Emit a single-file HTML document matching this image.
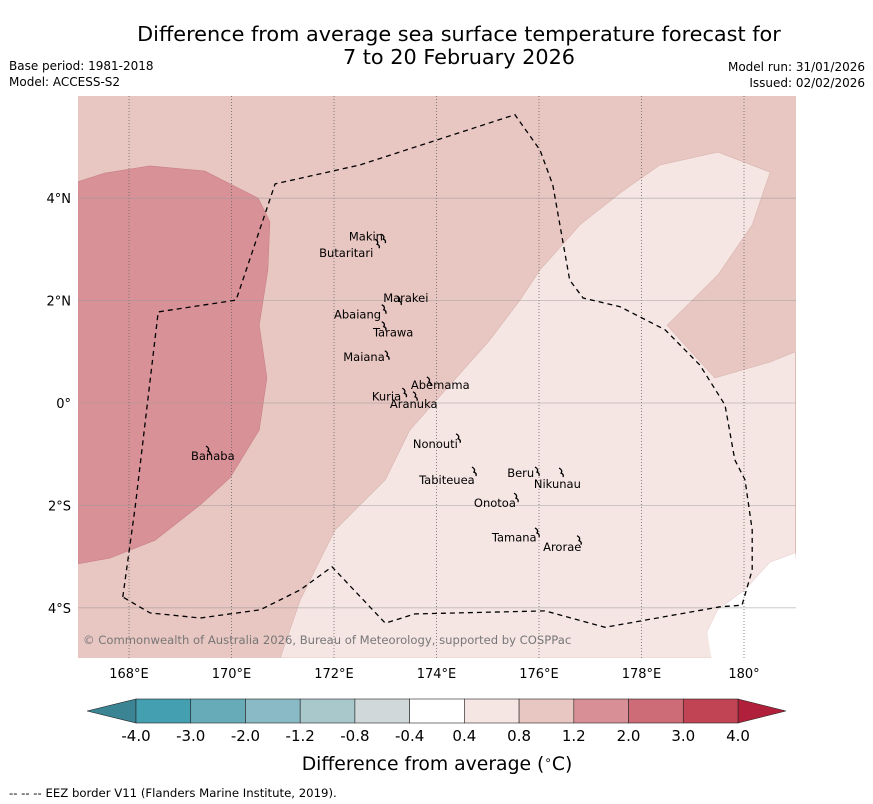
<!DOCTYPE html>
<html><head><meta charset="utf-8">
<style>
body{margin:0;background:#fff;width:873px;height:804px;overflow:hidden;font-family:"DejaVu Sans","Liberation Sans",sans-serif;}
svg{position:absolute;left:0;top:0}
</style></head>
<body>
<svg id="chart" width="873" height="804" font-family="DejaVu Sans, Liberation Sans, sans-serif">
<text x="459" y="41" font-size="20.8" text-anchor="middle">Difference from average sea surface temperature forecast for</text>
<text x="459" y="64" font-size="20.8" text-anchor="middle">7 to 20 February 2026</text>
<text x="9" y="70" font-size="12">Base period: 1981-2018</text>
<text x="9" y="86" font-size="12">Model: ACCESS-S2</text>
<text x="865" y="71" font-size="12" text-anchor="end">Model run: 31/01/2026</text>
<text x="865" y="87" font-size="12" text-anchor="end">Issued: 02/02/2026</text>
<defs><clipPath id="mc"><rect x="78" y="96" width="718" height="562"/></clipPath></defs>
<g id="map" clip-path="url(#mc)"></g>
<text x="83" y="644" font-size="11.6" fill="#777">© Commonwealth of Australia 2026, Bureau of Meteorology, supported by COSPPac</text>
<g id="axes"></g>
<g id="cbar"></g>
<text x="437" y="770" font-size="18.8" text-anchor="middle">Difference from average (<tspan font-size="12" dy="-6">∘</tspan><tspan dy="6">C)</tspan></text>
<text x="9" y="797" font-size="11.7">--  --  -- EEZ border V11 (Flanders Marine Institute, 2019).</text>
</svg>
<script>
const lonTicks=[168,170,172,174,176,178,180];
const lonLabels=["168°E","170°E","172°E","174°E","176°E","178°E","180°"];
const latTicks=[4,2,0,-2,-4];
const latLabels=["4°N","2°N","0°","2°S","4°S"];
const darkRegion=[[167,4.32],[167.53,4.49],[168.41,4.63],[169.48,4.53],[170.52,4.0],[170.75,3.54],[170.71,2.6],[170.54,1.52],[170.69,0.49],[170.54,-0.53],[169.97,-1.46],[169.39,-1.99],[168.51,-2.68],[167.63,-3.03],[167,-3.14]];
const lightRegion=[[170.95,-4.98],[171.34,-3.85],[172.02,-2.48],[173.0,-1.5],[173.48,-0.53],[174.26,0.35],[175.04,1.23],[175.63,2.01],[176.02,2.6],[176.8,3.48],[177.58,4.1],[178.36,4.65],[179.49,4.9],[180.51,4.51],[180.16,3.48],[179.49,2.5],[178.5,1.52],[179.43,0.49],[180.51,0.8],[181,1.0],[181,-2.93],[180.51,-3.11],[180.02,-3.65],[179.49,-4.04],[179.28,-4.47],[179.4,-4.98]];
const eez=[[167.88,-3.79],[168.12,-2.03],[168.57,1.78],[170.09,2.01],[170.85,4.28],[172.51,4.65],[175.53,5.63],[176.02,4.94],[176.27,4.26],[176.6,2.4],[176.86,2.05],[177.58,1.88],[178.46,1.43],[179.14,0.74],[179.63,-0.04],[179.82,-1.11],[180.02,-1.5],[180.16,-2.48],[180.16,-3.26],[179.96,-3.95],[179.53,-3.98],[177.29,-4.38],[176.12,-4.06],[173.58,-4.12],[173.0,-4.3],[171.96,-3.2],[171.34,-3.65],[170.56,-4.04],[169.39,-4.2],[168.41,-4.1],[167.88,-3.79]];
const islandNames=["Makin","Butaritari","Marakei","Abaiang","Tarawa","Maiana","Abemama","Kuria","Aranuka","Nonouti","Tabiteuea","Beru","Nikunau","Onotoa","Tamana","Arorae","Banaba"];
const islandLabelLon=[172.29,171.71,172.96,172.0,172.76,172.18,173.5,172.74,173.09,173.54,173.66,175.38,175.9,174.73,175.08,176.08,169.21];
const islandLabelLat=[3.25,2.93,2.05,1.73,1.38,0.9,0.35,0.13,-0.02,-0.8,-1.5,-1.37,-1.58,-1.95,-2.63,-2.81,-1.04];
const islandLon=[172.98,172.86,173.29,172.99,172.99,173.05,173.87,173.39,173.6,174.44,174.75,175.98,176.45,175.57,175.98,176.8,169.56];
const islandLat=[3.24,3.14,2.03,1.86,1.53,0.96,0.45,0.23,0.16,-0.66,-1.31,-1.31,-1.33,-1.82,-2.5,-2.65,-0.9];
const cbBounds=["-4.0","-3.0","-2.0","-1.2","-0.8","-0.4","0.4","0.8","1.2","2.0","3.0","4.0"];
const cbColors=["#44a0b1","#67abb9","#8abac6","#a8c8cc","#d0d8da","#ffffff","#f5e6e4","#e8c6c1","#d88f96","#cd6b76","#c14454"];
const NS="http://www.w3.org/2000/svg";
const X=lon=>129+(lon-168)*51.25;
const Y=lat=>403-lat*51.2;
function mk(tag,attrs,parent){const e=document.createElementNS(NS,tag);for(const k in attrs)e.setAttribute(k,attrs[k]);parent.appendChild(e);return e;}
const pts=a=>a.map(p=>X(p[0]).toFixed(1)+","+Y(p[1]).toFixed(1)).join(" ");
const map=document.getElementById("map");
let bg=mk("rect",{x:78,y:96,width:718,height:562,fill:"#e8c6c1"},map);


let lr=mk("polygon",{points:pts(lightRegion),fill:"#f5e6e4",stroke:"#d9b5b0","stroke-width":0.6},map);


let wr=mk("polygon",{points:pts([[181,-2.93],[180.51,-3.11],[180.02,-3.65],[179.49,-4.04],[179.28,-4.47],[179.4,-5.2],[181.2,-5.2]]),fill:"#ffffff"},map);


let dr=mk("polygon",{points:pts(darkRegion),fill:"#d79197",stroke:"#c98088","stroke-width":0.6},map);


lonTicks.forEach((l,i)=>{let g=mk("line",{x1:X(l),x2:X(l),y1:96,y2:658,stroke:"#666","stroke-width":0.8,"stroke-dasharray":"1,2"},map);

});
latTicks.forEach(l=>{let g=mk("line",{x1:78,x2:796,y1:Y(l),y2:Y(l),stroke:"#999","stroke-opacity":0.6,"stroke-width":0.8},map);

});
let ez=mk("polyline",{points:pts(eez),fill:"none",stroke:"#000","stroke-width":1.3,"stroke-dasharray":"5,4"},map);


islandNames.forEach((n,i)=>{
 const x=X(islandLon[i]),y=Y(islandLat[i]);
 let s=mk("path",{d:`M${x-3},${y-3} q4,2 2,5 q3,1 2,4`,fill:"none",stroke:"#000","stroke-width":1.3},map);
 
 
 let t=mk("text",{x:X(islandLabelLon[i]),y:Y(islandLabelLat[i])+4,"font-size":11.5},map);
 t.textContent=n;
 
 
});
const ax=document.getElementById("axes");
lonTicks.forEach((l,i)=>{let t=mk("text",{x:X(l),y:678,"font-size":13,"text-anchor":"middle"},ax);t.textContent=lonLabels[i];

});
latTicks.forEach((l,i)=>{let t=mk("text",{x:71,y:Y(l)+5,"font-size":13,"text-anchor":"end"},ax);t.textContent=latLabels[i];

});
const cb=document.getElementById("cbar");
const cx0=136,cx1=738,cy=699,ch=24,cw=(cx1-cx0)/cbColors.length;
let le=mk("polygon",{points:`${cx0},${cy} ${87},${cy+ch/2} ${cx0},${cy+ch}`,fill:"#3a8493",stroke:"#222","stroke-width":0.6},cb);


let re=mk("polygon",{points:`${cx1},${cy} ${786},${cy+ch/2} ${cx1},${cy+ch}`,fill:"#b0203a",stroke:"#222","stroke-width":0.6},cb);


cbColors.forEach((c,i)=>{let r=mk("rect",{x:cx0+i*cw,y:cy,width:cw,height:ch,fill:c,stroke:"#222","stroke-width":0.6},cb);

});
cbBounds.forEach((b,i)=>{let t=mk("text",{x:cx0+i*cw,y:741,"font-size":15,"text-anchor":"middle"},cb);t.textContent=b;

});
</script>
</body></html>
